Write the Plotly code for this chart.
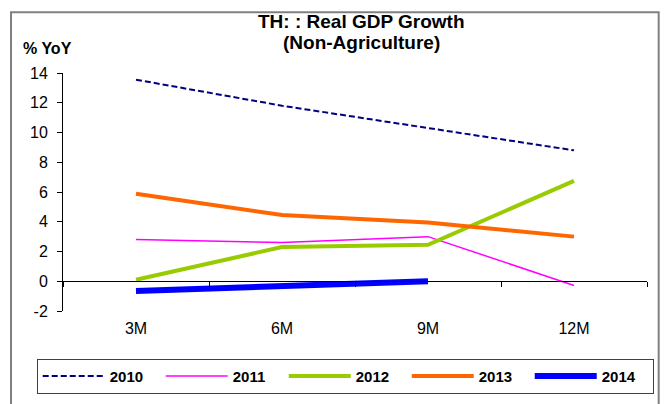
"""Real GDP growth (non-agriculture), Thailand, cumulative YoY by period."""

import plotly.graph_objects as go

PERIODS = ["3M", "6M", "9M", "12M"]

Y2010 = [13.55, 11.8, 10.3, 8.8]
Y2011 = [2.8, 2.6, 3.0, -0.28]
Y2012 = [0.1, 2.3, 2.45, 6.75]
Y2013 = [5.88, 4.45, 3.95, 3.0]
Y2014 = [-0.65, -0.3, 0.0]

Y_TICKS = [-2, 0, 2, 4, 6, 8, 10, 12, 14]
Y_TICK_TEXT = ["-2", "0", "2", "4", "6", "8", "10", "12", "14"]

FONT = "Arial, Liberation Sans, sans-serif"

SERIES = [
    ("2010", Y2010, dict(color="#000080", width=2, dash="6px,3px")),
    ("2011", Y2011, dict(color="#FF00FF", width=1.5)),
    ("2012", Y2012, dict(color="#99CC00", width=4)),
    ("2013", Y2013, dict(color="#FF6600", width=4)),
    ("2014", Y2014, dict(color="#0000FF", width=6)),
]

fig = go.Figure()
for name, vals, line in SERIES:
    fig.add_trace(go.Scatter(
        x=PERIODS[:len(vals)], y=vals, mode="lines", name=name,
        line=line,
    ))

title_font = dict(size=19, family=FONT, color="black")

# page body adds an 8px offset, so the figure is 8px smaller each way
fig.update_layout(
    width=660,
    height=396,
    paper_bgcolor="white",
    plot_bgcolor="white",
    margin=dict(l=55, r=21, t=65, b=93, autoexpand=False),
    font=dict(family=FONT, size=16, color="black"),
    showlegend=True,
    legend=dict(
        orientation="h",
        x=-0.045, xanchor="left",
        y=-0.201, yanchor="top",
        bordercolor="#404040", borderwidth=1,
        entrywidth=46, entrywidthmode="pixels",
        font=dict(size=15, family=FONT, color="black", weight="bold"),
        itemwidth=62,
    ),
    xaxis=dict(
        type="category",
        categoryorder="array", categoryarray=PERIODS,
        range=[-0.5, 3.5],
        anchor="free", position=0.125,
        showline=True, linecolor="black", linewidth=1,
        ticks="outside", tickson="boundaries", ticklen=5, tickcolor="black",
        ticklabelstandoff=33,
        showgrid=False, zeroline=False, automargin=False,
    ),
    yaxis=dict(
        range=[-2, 14], tickvals=Y_TICKS, ticktext=Y_TICK_TEXT,
        showline=True, linecolor="black", linewidth=1,
        ticks="outside", ticklen=5, tickcolor="black",
        ticklabelstandoff=6,
        showgrid=False, zeroline=False, automargin=False,
    ),
    annotations=[
        dict(text="<b>TH: : Real GDP Growth</b>", xref="paper", yref="paper",
             x=0.511, y=1.218, xanchor="center", yanchor="middle",
             showarrow=False, font=title_font),
        dict(text="<b>(Non-Agriculture)</b>", xref="paper", yref="paper",
             x=0.511, y=1.13, xanchor="center", yanchor="middle",
             showarrow=False, font=title_font),
        dict(text="<b>% YoY</b>", xref="paper", yref="paper",
             x=-0.072, y=1.105, xanchor="left", yanchor="middle",
             showarrow=False, font=dict(size=16, family=FONT, color="black")),
    ],
    shapes=[dict(
        type="rect", xref="paper", yref="paper",
        x0=-0.089, x1=1.02, y0=-0.42, y1=1.255,
        line=dict(color="#808080", width=2),
    )],
)

fig.write_html("out.html")
